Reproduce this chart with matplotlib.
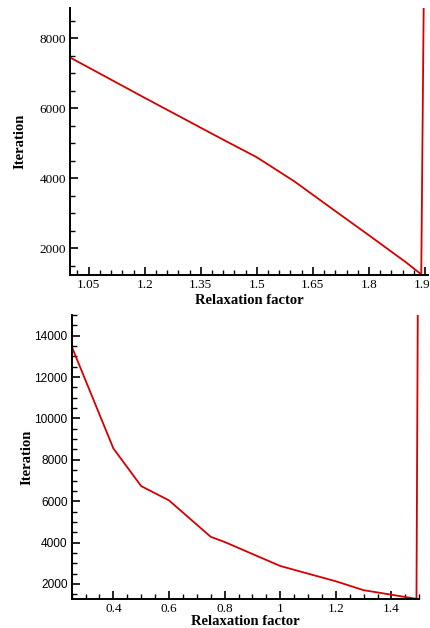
import matplotlib.pyplot as plt
from matplotlib.ticker import MultipleLocator

# upper case: relaxation factor vs iteration count
omega_a = [1.0, 1.2, 1.4, 1.5, 1.6, 1.7, 1.8, 1.9, 1.94, 1.947]
iter_a = [7455, 6300, 5160, 4600, 3915, 3140, 2370, 1590, 1250, 9500]

# lower case
omega_b = [0.25, 0.4, 0.5, 0.6, 0.75, 0.8, 1.0, 1.2, 1.3, 1.4, 1.49, 1.495]
iter_b = [13480, 8550, 6730, 6040, 4280, 4030, 2870, 2130, 1700, 1480, 1280, 16000]

xticks_a = [1.05, 1.2, 1.35, 1.5, 1.65, 1.8, 1.95]
yticks_a = [2000, 4000, 6000, 8000]
xticks_b = [0.4, 0.6, 0.8, 1.0, 1.2, 1.4]
yticks_b = [2000, 4000, 6000, 8000, 10000, 12000, 14000]

red = '#d40000'
serif = 'Liberation Serif'
sans = 'Liberation Sans'

fig = plt.figure(figsize=(4.3, 6.28), dpi=100)
ax1 = fig.add_axes([0.1628, 0.5621, 0.8325, 0.4252])
ax2 = fig.add_axes([0.1667, 0.0462, 0.8083, 0.4522])


def style(ax):
    for s in ['top', 'right']:
        ax.spines[s].set_visible(False)
    for s in ['left', 'bottom']:
        ax.spines[s].set_linewidth(1.4)
    ax.tick_params(which='major', direction='in', length=6, width=1.2, pad=3)
    ax.tick_params(which='minor', direction='in', length=3.5, width=1.0)


ax1.plot(omega_a, iter_a, color=red, lw=1.3)
ax1.set_xlim(1.0, 1.958)
ax1.set_ylim(1234, 8870)
ax1.set_xticks(xticks_a)
ax1.set_xticklabels([('%g' % v) for v in xticks_a], fontfamily=serif, fontsize=9.5)
ax1.set_yticks(yticks_a)
ax1.set_yticklabels([str(v) for v in yticks_a], fontfamily=serif, fontsize=9.5)
ax1.xaxis.set_minor_locator(MultipleLocator(0.03))
ax1.yaxis.set_minor_locator(MultipleLocator(500))
style(ax1)
ax1.set_xlabel('Relaxation factor', fontfamily=serif, fontweight='bold', fontsize=10.5, labelpad=2)
ax1.set_ylabel('Iteration', fontfamily=serif, fontweight='bold', fontsize=10.5, labelpad=9)

ax2.plot(omega_b, iter_b, color=red, lw=1.3)
ax2.set_xlim(0.25, 1.5)
ax2.set_ylim(1274, 15000)
ax2.set_xticks(xticks_b)
ax2.set_xticklabels([('%g' % v) for v in xticks_b], fontfamily=serif, fontsize=9.5)
ax2.set_yticks(yticks_b)
ax2.set_yticklabels([str(v) for v in yticks_b], fontfamily=sans, fontsize=8.6)
ax2.xaxis.set_minor_locator(MultipleLocator(0.05))
ax2.yaxis.set_minor_locator(MultipleLocator(500))
style(ax2)
ax2.set_xlabel('Relaxation factor', fontfamily=serif, fontweight='bold', fontsize=10.5, labelpad=0)
ax2.set_ylabel('Iteration', fontfamily=serif, fontweight='bold', fontsize=10.5, labelpad=1)

fig.savefig('out.png', dpi=100)
